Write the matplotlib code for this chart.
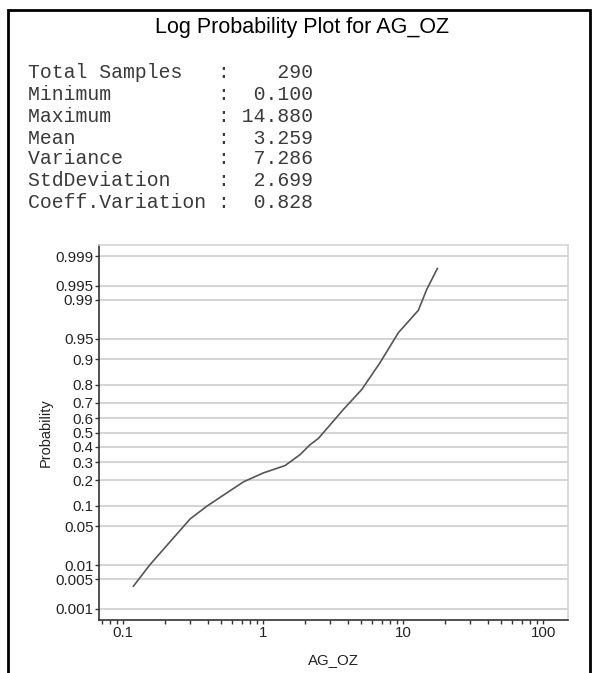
import numpy as np
import matplotlib
matplotlib.use("Agg")
import matplotlib.pyplot as plt
from matplotlib.patches import Rectangle
from matplotlib.ticker import FixedLocator, FixedFormatter, LogLocator, NullFormatter
from statistics import NormalDist

# summary table shown above the plot
stat_names = ["Total Samples", "Minimum", "Maximum", "Mean", "Variance",
              "StdDeviation", "Coeff.Variation"]
stat_values = ["290", "0.100", "14.880", "3.259", "7.286", "2.699", "0.828"]

# cumulative curve: AG_OZ value vs probability
ag_oz = [0.118, 0.155, 0.30, 0.394, 0.72, 1.0, 1.43, 1.83, 2.16, 2.47,
         3.73, 5.05, 6.82, 9.21, 12.8, 14.7, 17.5]
prob = [0.0035, 0.0102, 0.0647, 0.0977, 0.193, 0.239, 0.281, 0.349, 0.416,
        0.458, 0.657, 0.775, 0.890, 0.960, 0.984, 0.994, 0.998]

prob_ticks = [0.001, 0.005, 0.01, 0.05, 0.1, 0.2, 0.3, 0.4, 0.5, 0.6, 0.7,
              0.8, 0.9, 0.95, 0.99, 0.995, 0.999]
prob_labels = ["0.001", "0.005", "0.01", "0.05", "0.1", "0.2", "0.3", "0.4",
               "0.5", "0.6", "0.7", "0.8", "0.9", "0.95", "0.99", "0.995", "0.999"]
x_ticks = [0.1, 1, 10, 100]
x_labels = ["0.1", "1", "10", "100"]

nd = NormalDist()
_ppf = np.vectorize(lambda p: nd.inv_cdf(min(max(p, 1e-12), 1 - 1e-12)),
                    otypes=[float])
_cdf = np.vectorize(lambda z: nd.cdf(z), otypes=[float])


def probit(p):
    return _ppf(np.asarray(p, dtype=float))


def inv_probit(z):
    return _cdf(np.asarray(z, dtype=float))


W, H = 594, 673
fig = plt.figure(figsize=(W / 100, H / 100), dpi=100)

# outer frame
fig.patches.append(Rectangle((8 / W, -0.05), 582 / W, 1.05 - 10 / H,
                             transform=fig.transFigure, fill=False,
                             edgecolor="black", linewidth=2))

fig.text(302 / W, 1 - 28 / H, "Log Probability Plot for AG_OZ",
         family="Liberation Sans", fontsize=15.5, ha="center", va="center",
         color="black")

row_y = [73, 95, 117, 138, 159, 181, 203]
for name, val, y in zip(stat_names, stat_values, row_y):
    fig.text(28 / W, 1 - y / H, f"{name:<16}: {val:>6}",
             family="Liberation Mono", fontsize=14.2, ha="left", va="center",
             color="#3a3a3a")

ax = fig.add_axes([99 / W, 1 - 620 / H, 469 / W, 375 / H])
ax.set_xscale("log")
ax.set_yscale("function", functions=(probit, inv_probit))
ax.plot(ag_oz, prob, color="#555555", linewidth=1.2)

ax.set_xlim(0.067, 150)
ax.set_ylim(0.0005, 0.9995)

ax.yaxis.set_major_locator(FixedLocator(prob_ticks))
ax.yaxis.set_major_formatter(FixedFormatter(prob_labels))
ax.yaxis.set_minor_locator(FixedLocator([]))
ax.xaxis.set_major_locator(FixedLocator(x_ticks))
ax.xaxis.set_major_formatter(FixedFormatter(x_labels))
ax.xaxis.set_minor_locator(LogLocator(base=10, subs=np.arange(2, 10)))
ax.xaxis.set_minor_formatter(NullFormatter())

ax.grid(axis="y", color="#d4d4d4", linewidth=1.4)
ax.set_axisbelow(True)

for side in ("left", "bottom"):
    ax.spines[side].set_color("#333333")
    ax.spines[side].set_linewidth(1.2)
for side in ("top", "right"):
    ax.spines[side].set_color("#d4d4d4")
    ax.spines[side].set_linewidth(1.2)

ax.tick_params(axis="both", which="major", direction="out", length=3,
               width=1, color="#333333", labelcolor="#222222", labelsize=10.8,
               pad=1)
ax.tick_params(axis="x", which="minor", direction="out", length=3,
               width=1, color="#333333")
for lbl in ax.get_xticklabels() + ax.get_yticklabels():
    lbl.set_family("Liberation Sans")

ax.set_xlabel("AG_OZ", family="Liberation Sans", fontsize=10.8,
              color="#222222", labelpad=10)
ax.set_ylabel("Probability", family="Liberation Sans", fontsize=10.5,
              color="#222222", labelpad=2)

fig.savefig("out.png", dpi=100)
